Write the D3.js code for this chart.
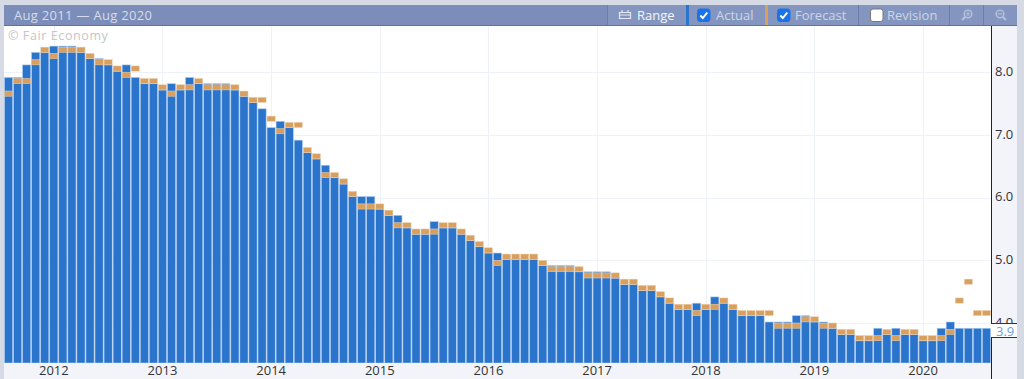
<!DOCTYPE html>
<html>
<head>
<meta charset="utf-8">
<script src="https://cdnjs.cloudflare.com/ajax/libs/d3/7.8.5/d3.min.js"></script>
<style>
  html, body { margin: 0; padding: 0; background: #d6dae4; overflow: hidden; }
  text { font-family: "Open Sans", "Noto Sans", sans-serif; }
</style>
</head>
<body>
<div id="chart"></div>
<script>
// monthly readings, Aug 2011 -> Aug 2020
const actual = [
  7.9, 7.9, 8.1, 8.3, 8.3, 8.4, 8.4, 8.4, 8.3, 8.2, 8.2, 8.1, 8.0, 8.1, 7.9, 7.8, 7.8,
  7.7, 7.8, 7.7, 7.9, 7.8, 7.8, 7.8, 7.8, 7.7, 7.6, 7.5, 7.4, 7.1, 7.2, 7.1, 6.9, 6.7, 6.6, 6.5, 6.3,
  6.2, 6.0, 6.0, 6.0, 5.8, 5.7, 5.7, 5.5, 5.4, 5.4, 5.6, 5.5, 5.5, 5.4, 5.3, 5.2, 5.1,
  5.1, 5.0, 5.0, 5.0, 5.0, 4.9, 4.9, 4.9, 4.9, 4.8, 4.8, 4.8, 4.8, 4.7, 4.6, 4.6, 4.5,
  4.5, 4.4, 4.3, 4.2, 4.2, 4.3, 4.2, 4.4, 4.3, 4.2, 4.1, 4.1, 4.1, 4.0, 4.0, 4.0, 4.1, 4.1,
  4.0, 4.0, 3.9, 3.8, 3.8, 3.7, 3.7, 3.9, 3.8, 3.9, 3.8, 3.8, 3.7, 3.7, 3.9, 4.0, 3.9, 3.9, 3.9, 3.9,
];
const forecast = [
  7.7, 7.9, 7.9, 8.2, 8.4, 8.3, 8.4, 8.4, 8.4, 8.3, 8.2, 8.2, 8.1, 8.0, 8.1, 7.9, 7.9,
  7.8, 7.7, 7.8, 7.8, 7.9, 7.8, 7.8, 7.8, 7.8, 7.7, 7.6, 7.6, 7.3, 7.1, 7.2, 7.2, 6.8, 6.7, 6.4, 6.4,
  6.3, 6.1, 5.9, 5.9, 5.9, 5.8, 5.6, 5.6, 5.5, 5.5, 5.5, 5.6, 5.6, 5.5, 5.4, 5.3, 5.2,
  5.0, 5.1, 5.1, 5.1, 5.1, 5.0, 4.9, 4.9, 4.9, 4.9, 4.8, 4.8, 4.8, 4.8, 4.7, 4.7, 4.6,
  4.6, 4.5, 4.4, 4.3, 4.3, 4.2, 4.3, 4.3, 4.4, 4.3, 4.2, 4.2, 4.2, 4.2, 4.0, 4.0, 4.0, 4.1,
  4.1, 4.0, 4.0, 3.9, 3.9, 3.8, 3.8, 3.8, 3.9, 3.8, 3.9, 3.9, 3.8, 3.8, 3.8, 3.9, 4.4, 4.7, 4.2, 4.2,
];
const months = d3.timeMonth.range(new Date(2011, 7, 1), new Date(2020, 8, 1));
const yearTicks = [2012, 2013, 2014, 2015, 2016, 2017, 2018, 2019, 2020];
const valueTicks = [4, 5, 6, 7, 8];

const colors = {
  page: "#d6dae4", band: "#f3f4f9", head: "#7b8db8", headBtn: "#8496bf", grid: "#eff1f8",
  bar: "#2a74cc", barEdge: "#a9c8ee", fc: "#d99f5e", fcEdge: "#eed3b4", label: "#333",
};

const dim = { width: 1024, height: 379, left: 4, right: 991, top: 26, bottom: 363, panel: 1017 };

const svg = d3
  .select("#chart")
  .append("svg")
  .attr("width", dim.width)
  .attr("height", dim.height)
  .style("display", "block");

// page + plot background
svg.append("rect").attr("width", dim.width).attr("height", dim.height).attr("fill", colors.page);
svg.append("rect").attr("x", dim.left).attr("y", dim.top)
  .attr("width", dim.panel - dim.left).attr("height", dim.height - dim.top).attr("fill", colors.band);
svg.append("rect").attr("x", dim.left).attr("y", dim.top)
  .attr("width", dim.right - dim.left).attr("height", dim.bottom - dim.top).attr("fill", "#fff");

// scales
const x = d3.scaleBand().domain(months).range([dim.left, dim.right]).paddingInner(0.1).paddingOuter(0.05);
const y = d3.scaleLinear().domain([4, 8]).range([322, 71.2]);

// gridlines
const plot = svg.append("g");
plot.selectAll(".h").data(valueTicks).enter().append("line")
  .attr("x1", dim.left).attr("x2", dim.right)
  .attr("y1", (d) => Math.round(y(d)) + 1.5).attr("y2", (d) => Math.round(y(d)) + 1.5)
  .attr("stroke", colors.grid);
const jan = (yr) => new Date(yr, 0, 1);
plot.selectAll(".v").data(yearTicks).enter().append("line")
  .attr("x1", (d) => Math.round(x(jan(d)) + x.bandwidth() / 2) + 0.5)
  .attr("x2", (d) => Math.round(x(jan(d)) + x.bandwidth() / 2) + 0.5)
  .attr("y1", dim.top).attr("y2", dim.bottom)
  .attr("stroke", colors.grid);

// watermark
svg.append("text").attr("x", 8).attr("y", 40).attr("font-size", 12.5)
  .attr("letter-spacing", 0.6).attr("fill", "#c6c6c6").text("© Fair Economy");

// actual bars
plot.selectAll(".bar").data(actual).enter().append("rect")
  .attr("x", (d, i) => x(months[i]))
  .attr("y", (d) => y(d))
  .attr("width", x.bandwidth())
  .attr("height", (d) => dim.bottom - y(d))
  .attr("fill", colors.bar)
  .attr("stroke", colors.barEdge)
  .attr("stroke-width", 0.6);

// forecast markers
plot.selectAll(".fc").data(forecast).enter().append("rect")
  .attr("x", (d, i) => x(months[i]))
  .attr("y", (d) => y(d) + 1)
  .attr("width", x.bandwidth())
  .attr("height", 5.2)
  .attr("fill", colors.fc)
  .attr("stroke", colors.fcEdge)
  .attr("stroke-width", 0.5);

// bottom band + axis
svg.append("rect").attr("x", dim.left).attr("y", dim.bottom)
  .attr("width", dim.right - dim.left + 1).attr("height", dim.height - dim.bottom).attr("fill", colors.band);
const xAxis = d3.axisBottom(x)
  .tickValues(yearTicks.map(jan))
  .tickFormat(d3.timeFormat("%Y"))
  .tickSize(0).tickPadding(3);
svg.append("g").attr("transform", `translate(0, ${dim.bottom})`).call(xAxis)
  .call((g) => g.select(".domain").remove())
  .selectAll("text").attr("font-size", 13).attr("fill", colors.label);

const yAxis = d3.axisRight(y).tickValues(valueTicks).tickFormat(d3.format(".1f")).tickSize(0).tickPadding(4);
svg.append("g").attr("transform", `translate(${dim.right}, 0)`).call(yAxis)
  .call((g) => g.select(".domain").remove())
  .selectAll("text").attr("font-size", 13).attr("fill", colors.label);

svg.append("line").attr("x1", dim.right + 0.5).attr("x2", dim.right + 0.5)
  .attr("y1", dim.top).attr("y2", dim.height).attr("stroke", "#222");

// current value flag, sits over the 4.0 label like the original
const last = actual[actual.length - 1];
const flag = svg.append("g").attr("transform", `translate(${dim.right}, ${Math.round(y(last)) + 3})`);
flag.append("rect").attr("x", 0).attr("y", -7.5).attr("width", dim.panel - dim.right).attr("height", 14).attr("fill", "#fff");
flag.selectAll("line").data([-7.5, 6.5]).enter().append("line")
  .attr("x1", 0).attr("x2", dim.panel - dim.right)
  .attr("y1", (d) => d).attr("y2", (d) => d).attr("stroke", "#333");
flag.append("text").attr("x", 5).attr("y", 4.5).attr("font-size", 13).attr("fill", "#6a9fe0").text(last.toFixed(1));

// header bar
const head = svg.append("g");
head.append("rect").attr("x", dim.left).attr("y", 5).attr("width", dim.panel - dim.left).attr("height", 21).attr("fill", colors.head);
head.append("rect").attr("x", dim.left).attr("y", 25).attr("width", dim.panel - dim.left).attr("height", 1).attr("fill", "#5f72a1");
head.append("rect").attr("x", 608).attr("y", 5).attr("width", 409).attr("height", 20).attr("fill", colors.headBtn);
head.append("text").attr("x", 14).attr("y", 20).attr("font-size", 13).attr("letter-spacing", 0.3)
  .attr("fill", "#d5dcec").text("Aug 2011 — Aug 2020");

// separators between the buttons
head.selectAll(".sep").data([607.5, 858.5, 949.5, 983.5]).enter().append("line")
  .attr("x1", (d) => d).attr("x2", (d) => d).attr("y1", 5).attr("y2", 25).attr("stroke", "#6a7dab");
head.append("rect").attr("x", 686).attr("y", 5).attr("width", 3).attr("height", 20).attr("fill", colors.bar);
head.append("rect").attr("x", 765).attr("y", 5).attr("width", 3).attr("height", 20).attr("fill", colors.fc);

const labels = [
  { text: "Range", x: 637, fill: "#f4f6fb" },
  { text: "Actual", x: 716, fill: "#ccd5e8" },
  { text: "Forecast", x: 795, fill: "#ccd5e8" },
  { text: "Revision", x: 887, fill: "#ccd5e8" },
];
head.selectAll(".lbl").data(labels).enter().append("text")
  .attr("x", (d) => d.x).attr("y", 20).attr("font-size", 13).attr("fill", (d) => d.fill).text((d) => d.text);

// checkboxes
const boxes = [{ x: 697.5, on: true }, { x: 777.5, on: true }, { x: 870.5, on: false }];
const box = head.selectAll(".box").data(boxes).enter().append("g")
  .attr("transform", (d) => `translate(${d.x}, 9)`);
box.append("rect").attr("width", 12.5).attr("height", 12.5).attr("rx", 2.5)
  .attr("fill", (d) => (d.on ? "#1a73e8" : "#fff")).attr("stroke", (d) => (d.on ? "#1a73e8" : "#777"));
box.filter((d) => d.on).append("path").attr("d", "M2.8 6.5 L5.3 9 L9.8 3.5")
  .attr("fill", "none").attr("stroke", "#fff").attr("stroke-width", 1.9);

// range icon
head.append("path").attr("d", "M619.5 12.5 h11 v6 h-11 z M619.5 15 h11 M622 10 v2.5 M628 10 v2.5")
  .attr("fill", "none").attr("stroke", "#e3e8f3").attr("stroke-width", 1.2);

// zoom in / zoom out icons
const zooms = [
  { x: 968, dir: -1, sign: "M-2 0 H2 M0 -2 V2" },
  { x: 1000, dir: 1, sign: "M-2 0 H2" },
];
const zoomIcon = head.selectAll(".zoom").data(zooms).enter().append("g")
  .attr("transform", (d) => `translate(${d.x}, 14)`).attr("stroke", "#b4c0da").attr("fill", "none").attr("stroke-width", 1.6);
zoomIcon.append("circle").attr("r", 3.8);
zoomIcon.append("line").attr("x1", (d) => d.dir * 2.8).attr("y1", 2.8).attr("x2", (d) => d.dir * 6).attr("y2", 6).attr("stroke-width", 2.2);
zoomIcon.append("path").attr("d", (d) => d.sign).attr("stroke-width", 1.2);
</script>
</body>
</html>
